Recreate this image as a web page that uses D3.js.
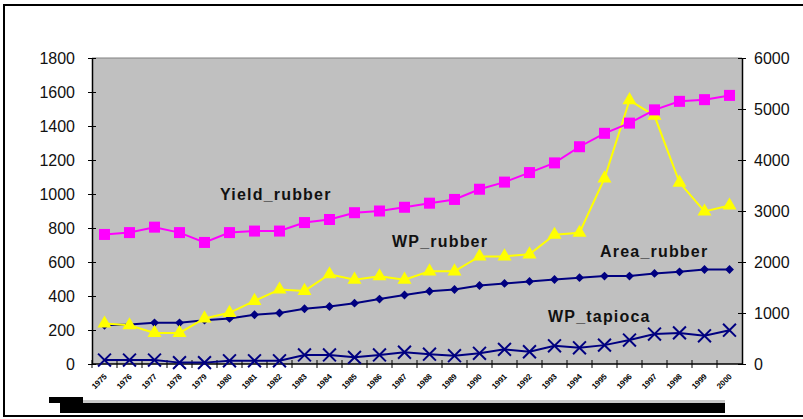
<!DOCTYPE html>
<html>
<head>
<meta charset="utf-8">
<script src="https://cdn.jsdelivr.net/npm/d3@7"></script>
<style>
  body { margin: 0; background: #fff; }
  svg { display: block; font-family: "Liberation Sans", Arial, sans-serif; }
</style>
</head>
<body>
<div id="chart"></div>
<script>
// categories (years) and series values
var years = d3.range(1975, 2001).map(String);
var leftTicks = [0, 200, 400, 600, 800, 1000, 1200, 1400, 1600, 1800];
var rightTicks = [0, 1000, 2000, 3000, 4000, 5000, 6000];

// left axis
var yieldRubber = [762, 773, 805, 773, 715, 773, 782, 782, 832, 850, 890, 900, 922,
                   946, 968, 1028, 1070, 1126, 1183, 1278, 1357, 1417, 1495, 1545, 1555, 1580];
var areaRubber = [228, 233, 242, 242, 258, 268, 290, 300, 325, 338, 358, 382, 406,
                  428, 438, 462, 474, 486, 497, 508, 517, 517, 533, 542, 556, 556];
// right axis
var wpRubber = [793, 760, 610, 610, 893, 1003, 1237, 1460, 1433, 1760, 1653, 1720, 1653,
                1817, 1817, 2110, 2110, 2150, 2533, 2573, 3640, 5173, 4867, 3557, 2990, 3107];
var wpTapioca = [77, 77, 77, 27, 27, 63, 63, 63, 177, 177, 130, 177, 230,
                 193, 163, 210, 287, 240, 357, 317, 370, 470, 587, 610, 553, 663];

var svgWidth = 803;
var svgHeight = 419;
var plot = { left: 92, right: 742, top: 58, bottom: 364 };

var svg = d3.select("#chart")
  .append("svg")
  .attr("width", svgWidth)
  .attr("height", svgHeight);

// outer frame
svg.append("rect")
  .attr("x", 4).attr("y", 5)
  .attr("width", 830).attr("height", 411)
  .attr("fill", "none")
  .attr("stroke", "#000")
  .attr("stroke-width", 2);

// scales
var x = d3.scaleBand().domain(years).range([plot.left, plot.right]).padding(0);
var yLeft = d3.scaleLinear().domain([0, 1800]).range([plot.bottom, plot.top]);
var yRight = d3.scaleLinear().domain([0, 6000]).range([plot.bottom, plot.top]);
var cx = function(i) { return x(years[i]) + x.bandwidth() / 2; };

// plot area
svg.append("rect")
  .attr("x", plot.left).attr("y", plot.top)
  .attr("width", plot.right - plot.left)
  .attr("height", plot.bottom - plot.top)
  .attr("fill", "#c0c0c0");
svg.append("line")
  .attr("x1", plot.left).attr("x2", plot.right)
  .attr("y1", plot.top).attr("y2", plot.top)
  .attr("stroke", "#808080");

// axes
function styleAxis(g) {
  g.select(".domain").attr("stroke", "#000").attr("stroke-width", 1.5);
  g.selectAll(".tick line").attr("stroke", "#000");
  g.selectAll("text")
    .style("font-size", "16px")
    .style("font-family", "'Liberation Sans', Arial, sans-serif")
    .attr("fill", "#111");
}

svg.append("g")
  .attr("transform", `translate(${plot.left},0)`)
  .call(d3.axisLeft(yLeft).tickValues(leftTicks).tickFormat(d3.format("d"))
    .tickSize(4).tickPadding(13).tickSizeOuter(0))
  .call(styleAxis);
svg.append("g")
  .attr("transform", `translate(${plot.left},0)`)
  .call(d3.axisRight(yLeft).tickValues(leftTicks).tickSize(4).tickFormat("").tickSizeOuter(0))
  .call(g => g.select(".domain").remove())
  .call(g => g.selectAll(".tick line").attr("stroke", "#000"));

svg.append("g")
  .attr("transform", `translate(${plot.right},0)`)
  .call(d3.axisRight(yRight).tickValues(rightTicks).tickFormat(d3.format("d"))
    .tickSize(4).tickPadding(8).tickSizeOuter(0))
  .call(styleAxis);
svg.append("g")
  .attr("transform", `translate(${plot.right},0)`)
  .call(d3.axisLeft(yRight).tickValues(rightTicks).tickSize(4).tickFormat("").tickSizeOuter(0))
  .call(g => g.select(".domain").remove())
  .call(g => g.selectAll(".tick line").attr("stroke", "#000"));

// bottom axis: ticks at category boundaries, crossing the axis line
svg.append("line")
  .attr("x1", plot.left).attr("x2", plot.right)
  .attr("y1", plot.bottom).attr("y2", plot.bottom)
  .attr("stroke", "#000").attr("stroke-width", 1.5);
svg.append("g").selectAll("line")
  .data(years)
  .enter()
  .append("line")
  .attr("x1", d => x(d)).attr("x2", d => x(d))
  .attr("y1", plot.bottom - 4).attr("y2", plot.bottom + 4)
  .attr("stroke", "#000");

// tiny rotated year labels
svg.append("g").selectAll("text")
  .data(years)
  .enter()
  .append("text")
  .attr("transform", d => `translate(${x(d) + x.bandwidth() / 2 + 3},${plot.bottom + 13}) rotate(-45)`)
  .attr("text-anchor", "end")
  .style("font-size", "8px")
  .style("font-weight", "bold")
  .attr("fill", "#000")
  .text(d => d);

// dark bars under the axis (as in the picture)
svg.append("rect").attr("x", 83).attr("y", 400).attr("width", 642).attr("height", 3).attr("fill", "#c8c8c8");
svg.append("rect").attr("x", 49).attr("y", 397).attr("width", 34).attr("height", 6).attr("fill", "#000");
svg.append("rect").attr("x", 60).attr("y", 403).attr("width", 665).attr("height", 10).attr("fill", "#000");

// series
function drawLine(values, scale, color) {
  var line = d3.line()
    .x((d, i) => cx(i))
    .y(d => scale(d));
  svg.append("path")
    .datum(values)
    .attr("d", line)
    .attr("fill", "none")
    .attr("stroke", color)
    .attr("stroke-width", 2);
}

drawLine(areaRubber, yLeft, "#000080");
drawLine(wpTapioca, yRight, "#000080");
drawLine(wpRubber, yRight, "#ffff00");
drawLine(yieldRubber, yLeft, "#ff00ff");

// markers
svg.append("g").selectAll("path")
  .data(areaRubber)
  .enter()
  .append("path")
  .attr("d", d3.symbol().type(d3.symbolDiamond2).size(50))
  .attr("transform", (d, i) => `translate(${cx(i)},${yLeft(d)})`)
  .attr("fill", "#000080");

svg.append("g").selectAll("path")
  .data(wpTapioca)
  .enter()
  .append("path")
  .attr("d", d3.symbol().type(d3.symbolTimes).size(110))
  .attr("transform", (d, i) => `translate(${cx(i)},${yRight(d)})`)
  .attr("fill", "none")
  .attr("stroke", "#000080")
  .attr("stroke-width", 2);

svg.append("g").selectAll("path")
  .data(wpRubber)
  .enter()
  .append("path")
  .attr("d", d3.symbol().type(d3.symbolTriangle).size(85))
  .attr("transform", (d, i) => `translate(${cx(i)},${yRight(d)})`)
  .attr("fill", "#ffff00");

svg.append("g").selectAll("rect")
  .data(yieldRubber)
  .enter()
  .append("rect")
  .attr("x", (d, i) => cx(i) - 5.5)
  .attr("y", d => yLeft(d) - 5.5)
  .attr("width", 11).attr("height", 11)
  .attr("fill", "#ff00ff");

// series labels
var labels = [
  { text: "Yield_rubber", x: 220, y: 200 },
  { text: "WP_rubber", x: 392, y: 247 },
  { text: "Area_rubber", x: 600, y: 257 },
  { text: "WP_tapioca", x: 548, y: 322 }
];
svg.append("g").selectAll("text")
  .data(labels)
  .enter()
  .append("text")
  .attr("x", d => d.x)
  .attr("y", d => d.y)
  .style("font-size", "16px")
  .style("font-weight", "bold")
  .style("letter-spacing", "1.2px")
  .attr("fill", "#111")
  .text(d => d.text);
</script>
</body>
</html>
